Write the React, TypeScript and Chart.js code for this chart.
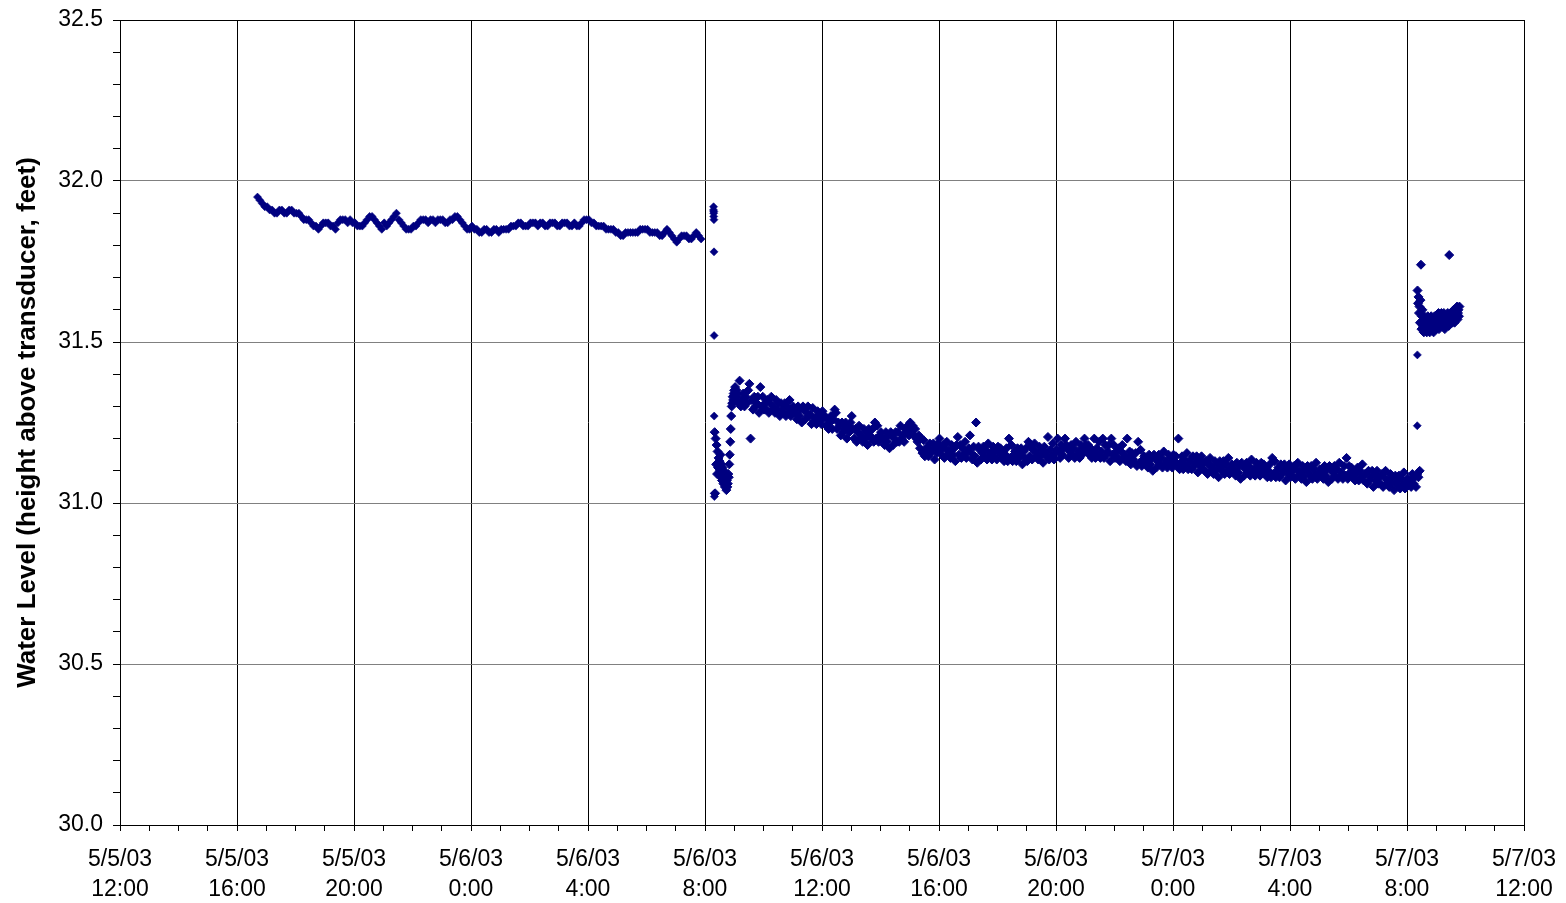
import { useEffect, useRef } from 'react';
import { Chart, registerables } from 'chart.js';

Chart.register(...registerables);

// Time is measured in hours from 5/5/03 12:00; levels are feet above the transducer.
const X_MIN_HOURS = 0;
const X_MAX_HOURS = 48;
const Y_MIN = 30.0;
const Y_MAX = 32.5;

const xTickDates = ['5/5/03', '5/5/03', '5/5/03', '5/6/03', '5/6/03', '5/6/03', '5/6/03', '5/6/03', '5/6/03', '5/7/03', '5/7/03', '5/7/03', '5/7/03'];
const xTickTimes = ['12:00', '16:00', '20:00', '0:00', '4:00', '8:00', '12:00', '16:00', '20:00', '0:00', '4:00', '8:00', '12:00'];
const yTickLabels = ['30.0', '30.5', '31.0', '31.5', '32.0', '32.5'];

// Static level before the test, logged every 5 minutes.
const preTestStart = 4.7;
const preTestStepMin = 5;
const preTestLevels = [
  31.95, 31.94, 31.93, 31.92, 31.92, 31.91, 31.91, 31.9, 31.9, 31.91,
  31.91, 31.9, 31.9, 31.91, 31.91, 31.9, 31.9, 31.9, 31.89, 31.88,
  31.88, 31.88, 31.87, 31.86, 31.86, 31.85, 31.86, 31.87, 31.87, 31.87,
  31.86, 31.86, 31.85, 31.87, 31.88, 31.88, 31.88, 31.87, 31.88, 31.87,
  31.87, 31.86, 31.86, 31.86, 31.87, 31.88, 31.89, 31.89, 31.88, 31.87,
  31.86, 31.85, 31.87, 31.86, 31.87, 31.88, 31.89, 31.9, 31.88, 31.87,
  31.86, 31.85, 31.85, 31.85, 31.86, 31.86, 31.87, 31.88, 31.88, 31.88,
  31.87, 31.88, 31.88, 31.87, 31.88, 31.88, 31.88, 31.87, 31.87, 31.88,
  31.88, 31.89, 31.89, 31.88, 31.87, 31.86, 31.85, 31.85, 31.86, 31.85,
  31.85, 31.84, 31.84, 31.85, 31.85, 31.84, 31.84, 31.85, 31.85, 31.84,
  31.85, 31.85, 31.85, 31.85, 31.86, 31.86, 31.86, 31.87, 31.87, 31.86,
  31.86, 31.86, 31.87, 31.87, 31.87, 31.86, 31.87, 31.87, 31.86, 31.86,
  31.87, 31.87, 31.87, 31.86, 31.86, 31.87, 31.87, 31.87, 31.86, 31.86,
  31.87, 31.86, 31.86, 31.87, 31.88, 31.88, 31.88, 31.87, 31.87, 31.86,
  31.86, 31.86, 31.86, 31.85, 31.85, 31.85, 31.85, 31.84, 31.84, 31.83,
  31.83, 31.84, 31.84, 31.84, 31.84, 31.84, 31.84, 31.85, 31.85, 31.85,
  31.85, 31.84, 31.84, 31.84, 31.84, 31.83, 31.83, 31.84, 31.85, 31.84,
  31.83, 31.82, 31.81, 31.82, 31.83, 31.83, 31.83, 31.82, 31.82, 31.83,
  31.84, 31.83, 31.82,
];

// Rapid readings when the logger was restarted for the test.
const startupTimes = [20.29, 20.293, 20.296, 20.299, 20.302, 20.305, 20.308, 20.311, 20.314, 20.317, 20.32];
const startupLevels = [31.91, 31.92, 31.9, 31.89, 31.905, 31.88, 31.78, 31.52, 31.27, 31.03, 31.02];

// Early drawdown and rebound, one reading per minute.
const drawdownStart = 20.33;
const drawdownStepMin = 1;
const drawdownLevels = [
  31.22, 31.03, 31.2, 31.12, 31.18, 31.09, 31.16, 31.11, 31.14, 31.09,
  31.13, 31.1, 31.15, 31.08, 31.12, 31.07, 31.11, 31.08, 31.06, 31.1,
  31.07, 31.05, 31.08, 31.06, 31.04, 31.07, 31.05, 31.06, 31.09, 31.08,
  31.12, 31.15, 31.19, 31.23, 31.27, 31.3, 31.31, 31.33, 31.32, 31.34,
  31.35, 31.33, 31.36, 31.34, 31.32, 31.35, 31.33,
];

// Slow decline through the rest of the test, one reading every 2.5 minutes.
const declineStart = 21.1;
const declineStepMin = 2.5;
const declineLevels0906 = [
  31.34, 31.31, 31.38, 31.3, 31.32, 31.34, 31.3, 31.33, 31.31, 31.35, 31.37, 31.2,
  31.32, 31.29, 31.33, 31.3, 31.31, 31.33, 31.28, 31.36, 31.3, 31.33, 31.29, 31.31,
  31.29, 31.32, 31.28, 31.31, 31.33, 31.29, 31.3, 31.28, 31.32, 31.29, 31.31, 31.27,
  31.31, 31.29, 31.28, 31.31, 31.27, 31.3, 31.28, 31.32, 31.27, 31.29, 31.3, 31.28,
  31.28, 31.26, 31.3, 31.27, 31.29, 31.25, 31.3, 31.29, 31.26, 31.28, 31.3, 31.27,
  31.275, 31.245, 31.295, 31.255, 31.265, 31.245, 31.285, 31.255, 31.275, 31.245, 31.285, 31.265,
  31.27, 31.24, 31.26, 31.23, 31.25, 31.27, 31.23, 31.26, 31.29, 31.28, 31.23, 31.25,
  31.24, 31.21, 31.25, 31.22, 31.23, 31.25, 31.2, 31.24, 31.22, 31.25, 31.27, 31.23,
  31.2, 31.23, 31.19, 31.22, 31.24, 31.2, 31.21, 31.19, 31.23, 31.2, 31.22, 31.18,
  31.23, 31.21, 31.2, 31.23, 31.19, 31.25, 31.2, 31.24, 31.19, 31.21, 31.22, 31.2,
  31.2, 31.18, 31.22, 31.19, 31.21, 31.17, 31.22, 31.21, 31.18, 31.2, 31.22, 31.19,
  31.22, 31.19, 31.24, 31.2, 31.21, 31.19, 31.23, 31.22, 31.24, 31.21, 31.25, 31.23,
];
const declineLevels1506 = [
  31.24, 31.21, 31.23, 31.2, 31.19, 31.21, 31.17, 31.2, 31.155, 31.195, 31.145, 31.165,
  31.175, 31.145, 31.185, 31.155, 31.165, 31.185, 31.135, 31.175, 31.155, 31.185, 31.2, 31.165,
  31.15, 31.18, 31.14, 31.17, 31.19, 31.15, 31.16, 31.14, 31.18, 31.15, 31.17, 31.13,
  31.18, 31.205, 31.15, 31.18, 31.14, 31.17, 31.15, 31.19, 31.14, 31.16, 31.17, 31.21,
  31.155, 31.135, 31.175, 31.145, 31.25, 31.125, 31.175, 31.165, 31.135, 31.155, 31.175, 31.145,
  31.165, 31.135, 31.185, 31.145, 31.155, 31.135, 31.175, 31.145, 31.165, 31.135, 31.175, 31.155,
  31.17, 31.14, 31.16, 31.13, 31.15, 31.17, 31.13, 31.2, 31.14, 31.18, 31.13, 31.15,
  31.16, 31.13, 31.17, 31.14, 31.15, 31.17, 31.12, 31.16, 31.14, 31.17, 31.13, 31.19,
  31.145, 31.175, 31.135, 31.165, 31.185, 31.145, 31.155, 31.135, 31.175, 31.145, 31.165, 31.125,
  31.175, 31.155, 31.145, 31.205, 31.135, 31.165, 31.145, 31.185, 31.135, 31.155, 31.165, 31.2,
  31.16, 31.14, 31.18, 31.15, 31.17, 31.2, 31.18, 31.17, 31.14, 31.16, 31.18, 31.15,
  31.17, 31.14, 31.19, 31.15, 31.16, 31.14, 31.18, 31.15, 31.17, 31.2, 31.18, 31.16,
];
const declineLevels2106 = [
  31.18, 31.15, 31.17, 31.14, 31.16, 31.2, 31.14, 31.17, 31.15, 31.19, 31.14, 31.16,
  31.2, 31.14, 31.18, 31.15, 31.16, 31.18, 31.13, 31.2, 31.15, 31.18, 31.14, 31.16,
  31.14, 31.17, 31.13, 31.16, 31.18, 31.14, 31.15, 31.13, 31.2, 31.14, 31.16, 31.12,
  31.155, 31.135, 31.125, 31.155, 31.115, 31.19, 31.125, 31.165, 31.115, 31.135, 31.145, 31.125,
  31.13, 31.11, 31.15, 31.12, 31.14, 31.1, 31.15, 31.14, 31.11, 31.13, 31.15, 31.12,
  31.14, 31.11, 31.16, 31.12, 31.13, 31.11, 31.15, 31.12, 31.14, 31.11, 31.15, 31.13,
  31.145, 31.115, 31.2, 31.105, 31.125, 31.145, 31.105, 31.135, 31.115, 31.155, 31.105, 31.125,
  31.135, 31.105, 31.145, 31.115, 31.125, 31.145, 31.095, 31.135, 31.115, 31.145, 31.105, 31.125,
  31.1, 31.13, 31.09, 31.12, 31.14, 31.1, 31.11, 31.09, 31.13, 31.1, 31.12, 31.08,
  31.13, 31.11, 31.1, 31.13, 31.09, 31.12, 31.1, 31.14, 31.09, 31.11, 31.12, 31.1,
  31.105, 31.085, 31.125, 31.095, 31.115, 31.075, 31.125, 31.115, 31.085, 31.105, 31.125, 31.095,
  31.115, 31.085, 31.135, 31.095, 31.105, 31.085, 31.125, 31.095, 31.115, 31.085, 31.125, 31.105,
];
const declineLevels0306 = [
  31.12, 31.09, 31.11, 31.08, 31.1, 31.12, 31.08, 31.14, 31.09, 31.13, 31.08, 31.1,
  31.11, 31.08, 31.12, 31.09, 31.1, 31.12, 31.07, 31.11, 31.09, 31.12, 31.08, 31.1,
  31.085, 31.115, 31.075, 31.105, 31.125, 31.085, 31.095, 31.075, 31.115, 31.085, 31.105, 31.065,
  31.115, 31.095, 31.085, 31.115, 31.075, 31.105, 31.085, 31.125, 31.075, 31.095, 31.105, 31.085,
  31.095, 31.075, 31.115, 31.085, 31.105, 31.065, 31.115, 31.105, 31.075, 31.095, 31.115, 31.085,
  31.105, 31.075, 31.125, 31.085, 31.095, 31.075, 31.115, 31.085, 31.14, 31.075, 31.115, 31.095,
  31.11, 31.08, 31.1, 31.07, 31.09, 31.11, 31.07, 31.1, 31.08, 31.12, 31.07, 31.09,
  31.09, 31.06, 31.1, 31.07, 31.08, 31.1, 31.05, 31.09, 31.07, 31.1, 31.06, 31.08,
  31.06, 31.09, 31.05, 31.08, 31.1, 31.06, 31.07, 31.05, 31.09, 31.06, 31.08, 31.04,
  31.085, 31.065, 31.055, 31.085, 31.045, 31.075, 31.055, 31.095, 31.045, 31.065, 31.075, 31.055,
  31.07, 31.05, 31.09, 31.06, 31.08, 31.05, 31.09, 31.08, 31.1,
];

// Step after the transducer was reset.
const jumpTimes = [44.35, 44.355];
const jumpLevels = [31.24, 31.46];

const resetStart = 44.36;
const resetStepMin = 1;
const resetLevels = [
  31.66, 31.62, 31.64, 31.59, 31.61, 31.56, 31.63, 31.74, 31.54, 31.58,
  31.6, 31.55, 31.57, 31.53, 31.58, 31.56, 31.54, 31.57, 31.55, 31.53,
  31.56, 31.58, 31.54, 31.55, 31.57, 31.53, 31.56, 31.55, 31.58, 31.54,
  31.56, 31.57, 31.55, 31.53, 31.56, 31.58, 31.55, 31.57, 31.54, 31.56,
  31.58, 31.55, 31.57, 31.59, 31.54, 31.56, 31.58, 31.55, 31.57, 31.59,
  31.56, 31.58, 31.55, 31.57, 31.59, 31.56, 31.54, 31.58, 31.57, 31.55,
  31.58, 31.56, 31.59, 31.57, 31.55, 31.77, 31.58, 31.56, 31.59, 31.57,
  31.58, 31.56, 31.59, 31.57, 31.6, 31.58, 31.56, 31.59, 31.57, 31.6,
  31.58, 31.61, 31.57, 31.59, 31.6, 31.58, 31.61,
];

type Pt = { x: number; y: number };

function sampled(start: number, stepMin: number, levels: number[]): Pt[] {
  return levels.map((y, i) => ({ x: start + (i * stepMin) / 60, y }));
}

function paired(times: number[], levels: number[]): Pt[] {
  return times.map((x, i) => ({ x, y: levels[i] }));
}

const FONT = "'Liberation Sans', Arial, Helvetica, sans-serif";
const MARKER = '#000080';

// Keep the plot frame fixed: drop the extra room Chart.js reserves for edge labels.
function clearEdgePadding(scale: any) {
  scale.paddingLeft = 0;
  scale.paddingRight = 0;
  scale.paddingTop = 0;
  scale.paddingBottom = 0;
}

export default function App() {
  const canvasRef = useRef<HTMLCanvasElement | null>(null);

  useEffect(() => {
    document.body.style.margin = '0';
    const canvas = canvasRef.current;
    if (!canvas) return;

    const declineLevels = [
      ...declineLevels0906,
      ...declineLevels1506,
      ...declineLevels2106,
      ...declineLevels0306,
    ];

    // Sparse readings drawn with the plain marker size.
    const sparsePoints: Pt[] = [
      ...sampled(preTestStart, preTestStepMin, preTestLevels),
      ...paired(startupTimes, startupLevels),
      ...paired(jumpTimes, jumpLevels),
    ];
    // Closely spaced test readings.
    const densePoints: Pt[] = [
      ...sampled(drawdownStart, drawdownStepMin, drawdownLevels),
      ...sampled(declineStart, declineStepMin, declineLevels),
      ...sampled(resetStart, resetStepMin, resetLevels),
    ];

    const isMajorX = (v: number) => Math.abs(v / 4 - Math.round(v / 4)) < 1e-6;
    const isMajorY = (v: number) => Math.abs(v * 2 - Math.round(v * 2)) < 1e-6;

    const chart = new Chart(canvas, {
      type: 'scatter',
      data: {
        datasets: [
          {
            label: 'Water level',
            data: sparsePoints,
            pointStyle: 'rectRot',
            pointRadius: 4,
            pointBackgroundColor: MARKER,
            pointBorderColor: MARKER,
            pointBorderWidth: 0.6,
            showLine: false,
          },
          {
            label: 'Water level (test)',
            data: densePoints,
            pointStyle: 'rectRot',
            pointRadius: 4.5,
            pointBackgroundColor: MARKER,
            pointBorderColor: MARKER,
            pointBorderWidth: 1,
            showLine: false,
          },
        ],
      },
      options: {
        animation: false,
        responsive: false,
        devicePixelRatio: 1,
        events: [],
        layout: { autoPadding: false, padding: { top: 20, right: 42, left: 0, bottom: 0 } },
        plugins: {
          legend: { display: false },
          tooltip: { enabled: false },
        },
        scales: {
          x: {
            type: 'linear',
            min: X_MIN_HOURS,
            max: X_MAX_HOURS,
            afterFit: (scale: any) => {
              scale.height = 78;
              clearEdgePadding(scale);
            },
            border: { display: true, color: '#000', width: 1 },
            grid: {
              color: (ctx: any) => (isMajorX(ctx.tick.value) ? '#000' : 'rgba(0,0,0,0)'),
              lineWidth: 1,
              drawTicks: true,
              tickLength: 6,
              tickColor: '#000',
              tickWidth: 1,
            },
            ticks: {
              stepSize: 1,
              autoSkip: false,
              maxRotation: 0,
              minRotation: 0,
              padding: 13,
              color: '#000',
              font: { family: FONT, size: 23, lineHeight: 1.32 },
              callback: (value: any) => {
                const v = Number(value);
                if (!isMajorX(v)) return '';
                const k = Math.round(v / 4);
                return [xTickDates[k], xTickTimes[k]];
              },
            },
          },
          y: {
            type: 'linear',
            min: Y_MIN,
            max: Y_MAX,
            afterFit: (scale: any) => {
              scale.width = 120;
              clearEdgePadding(scale);
            },
            border: { display: true, color: '#000', width: 1 },
            grid: {
              color: (ctx: any) => {
                const v = ctx.tick.value;
                if (Math.abs(v - Y_MAX) < 1e-6) return '#000';
                return isMajorY(v) ? '#808080' : 'rgba(0,0,0,0)';
              },
              lineWidth: 1,
              drawTicks: true,
              tickLength: 7,
              tickColor: '#000',
              tickWidth: 1,
            },
            ticks: {
              stepSize: 0.1,
              autoSkip: false,
              padding: 10,
              color: '#000',
              font: { family: FONT, size: 23 },
              callback: (value: any) => {
                const v = Number(value);
                if (!isMajorY(v)) return '';
                return yTickLabels[Math.round((v - Y_MIN) * 2)];
              },
            },
            title: {
              display: true,
              text: 'Water Level (height above transducer, feet)',
              color: '#000',
              font: { family: FONT, size: 26, weight: 'bold' },
              padding: { top: 12, bottom: 0 },
            },
          },
        },
      },
    });

    return () => {
      chart.destroy();
    };
  }, []);

  return (
    <canvas
      ref={canvasRef}
      width={1566}
      height={903}
      style={{ display: 'block', width: '1566px', height: '903px' }}
    />
  );
}
